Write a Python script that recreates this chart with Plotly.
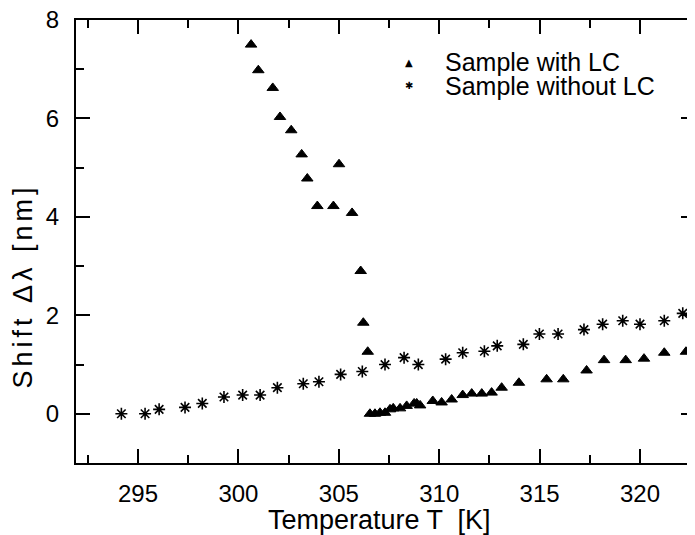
import plotly.graph_objects as go

# temperature [K] and wavelength shift [nm]
lc_temp = [300.63, 300.99, 301.71, 302.07, 302.63, 303.15, 303.43, 303.93, 304.73, 305.01,
           305.66, 306.09, 306.22, 306.44, 306.55, 306.80, 307.05, 307.30, 307.55, 307.71,
           308.05, 308.38, 308.75, 308.88, 309.05, 309.68, 310.12, 310.62, 311.17, 311.62,
           312.12, 312.61, 313.11, 313.97, 315.35, 316.18, 317.34, 318.21, 319.29, 320.20,
           321.21, 322.29]
lc_shift = [7.50, 6.98, 6.62, 6.03, 5.76, 5.27, 4.78, 4.22, 4.22, 5.07,
            4.08, 2.90, 1.85, 1.26, 0.00, 0.00, 0.02, 0.02, 0.09, 0.11,
            0.11, 0.16, 0.21, 0.21, 0.17, 0.26, 0.23, 0.29, 0.38, 0.41,
            0.41, 0.43, 0.53, 0.63, 0.70, 0.70, 0.88, 1.09, 1.09, 1.12,
            1.24, 1.26]

nolc_temp = [294.17, 295.35, 296.05, 297.34, 298.20, 299.28, 300.21, 301.08, 301.94, 303.23,
             304.01, 305.09, 306.17, 307.30, 308.25, 308.96, 310.32, 311.17, 312.25, 312.89,
             314.19, 314.99, 315.92, 317.21, 318.14, 319.14, 320.00, 321.21, 322.13]
nolc_shift = [0.00, 0.00, 0.09, 0.13, 0.21, 0.34, 0.38, 0.38, 0.53, 0.61,
              0.65, 0.80, 0.86, 1.00, 1.14, 1.00, 1.11, 1.24, 1.27, 1.38,
              1.41, 1.62, 1.62, 1.71, 1.82, 1.89, 1.82, 1.89, 2.04]

x_ticks = [295, 300, 305, 310, 315, 320]
y_ticks = [0, 2, 4, 6, 8]
x_range = [291.91, 322.74]
y_range = [-1, 8]

FONT = "Liberation Sans, Arial, sans-serif"

fig = go.Figure()
fig.add_trace(go.Scatter(x=lc_temp, y=lc_shift, mode="markers", name="Sample with LC",
                         marker=dict(symbol="triangle-up", size=10, color="black",
                                     line=dict(color="black", width=1)),
                         showlegend=False))
fig.add_trace(go.Scatter(x=nolc_temp, y=nolc_shift, mode="markers", name="Sample without LC",
                         marker=dict(symbol="asterisk-open", size=10, color="black",
                                     line=dict(color="black", width=1.6)),
                         showlegend=False))
# empty trace so the right-hand tick axis gets drawn
fig.add_trace(go.Scatter(x=[None], y=[None], yaxis="y2", showlegend=False, hoverinfo="skip"))

axis_common = dict(showgrid=False, zeroline=False, ticks="inside", tickcolor="black",
                   tickwidth=1.5, linecolor="black", linewidth=2, ticklabeloverflow="allow",
                   automargin=False, tickfont=dict(family=FONT, size=24, color="black"))
minor_x = dict(dtick=2.5, tick0=295, ticklen=8, ticks="inside", tickcolor="black", tickwidth=1.5)
minor_y = dict(dtick=1, tick0=0, ticklen=8, ticks="inside", tickcolor="black", tickwidth=1.5)

# the page body adds an 8px offset, so the margins are trimmed by 8px on the left/top
fig.update_layout(
    width=695, height=535,
    margin=dict(l=68, r=8, t=12, b=80),
    paper_bgcolor="white", plot_bgcolor="white",
    xaxis=dict(range=x_range, tickvals=x_ticks, ticklen=14, showline=True, mirror="ticks",
               minor=minor_x, ticklabelstandoff=8, **axis_common),
    yaxis=dict(range=y_range, tickvals=y_ticks, ticklen=14, showline=True,
               minor=minor_y, ticklabelstandoff=10, **axis_common),
    yaxis2=dict(range=y_range, overlaying="y", side="right", tickvals=y_ticks, ticklen=14,
                showline=False, showticklabels=False, showgrid=False, zeroline=False,
                automargin=False, ticks="inside", tickcolor="black", tickwidth=1.5,
                minor=minor_y),
    showlegend=False,
)

# axis titles
fig.add_annotation(text="Temperature T  [K]", xref="paper", yref="paper", x=0.491, y=-0.128,
                   xanchor="center", yanchor="middle", showarrow=False,
                   font=dict(family=FONT, size=27, color="black"))
fig.add_annotation(text="<span style='letter-spacing:4px'>Shift \u0394\u03bb [nm]</span>",
                   xref="paper", yref="paper", x=-0.086, y=0.40,
                   xanchor="center", yanchor="middle", showarrow=False, textangle=-90,
                   font=dict(family=FONT, size=27, color="black"))

# legend
legend_rows = [("\u25b2", "Sample with LC", 0.905), ("\u2731", "Sample without LC", 0.852)]
for sym, label, yy in legend_rows:
    fig.add_annotation(text=sym, xref="paper", yref="paper", x=0.5385, y=yy,
                       xanchor="center", yanchor="middle", showarrow=False,
                       font=dict(family="DejaVu Sans", size=10, color="black"))
    fig.add_annotation(text=label, xref="paper", yref="paper", x=0.593, y=yy,
                       xanchor="left", yanchor="middle", showarrow=False,
                       font=dict(family=FONT, size=25, color="black"))

fig.write_html("out.html")
